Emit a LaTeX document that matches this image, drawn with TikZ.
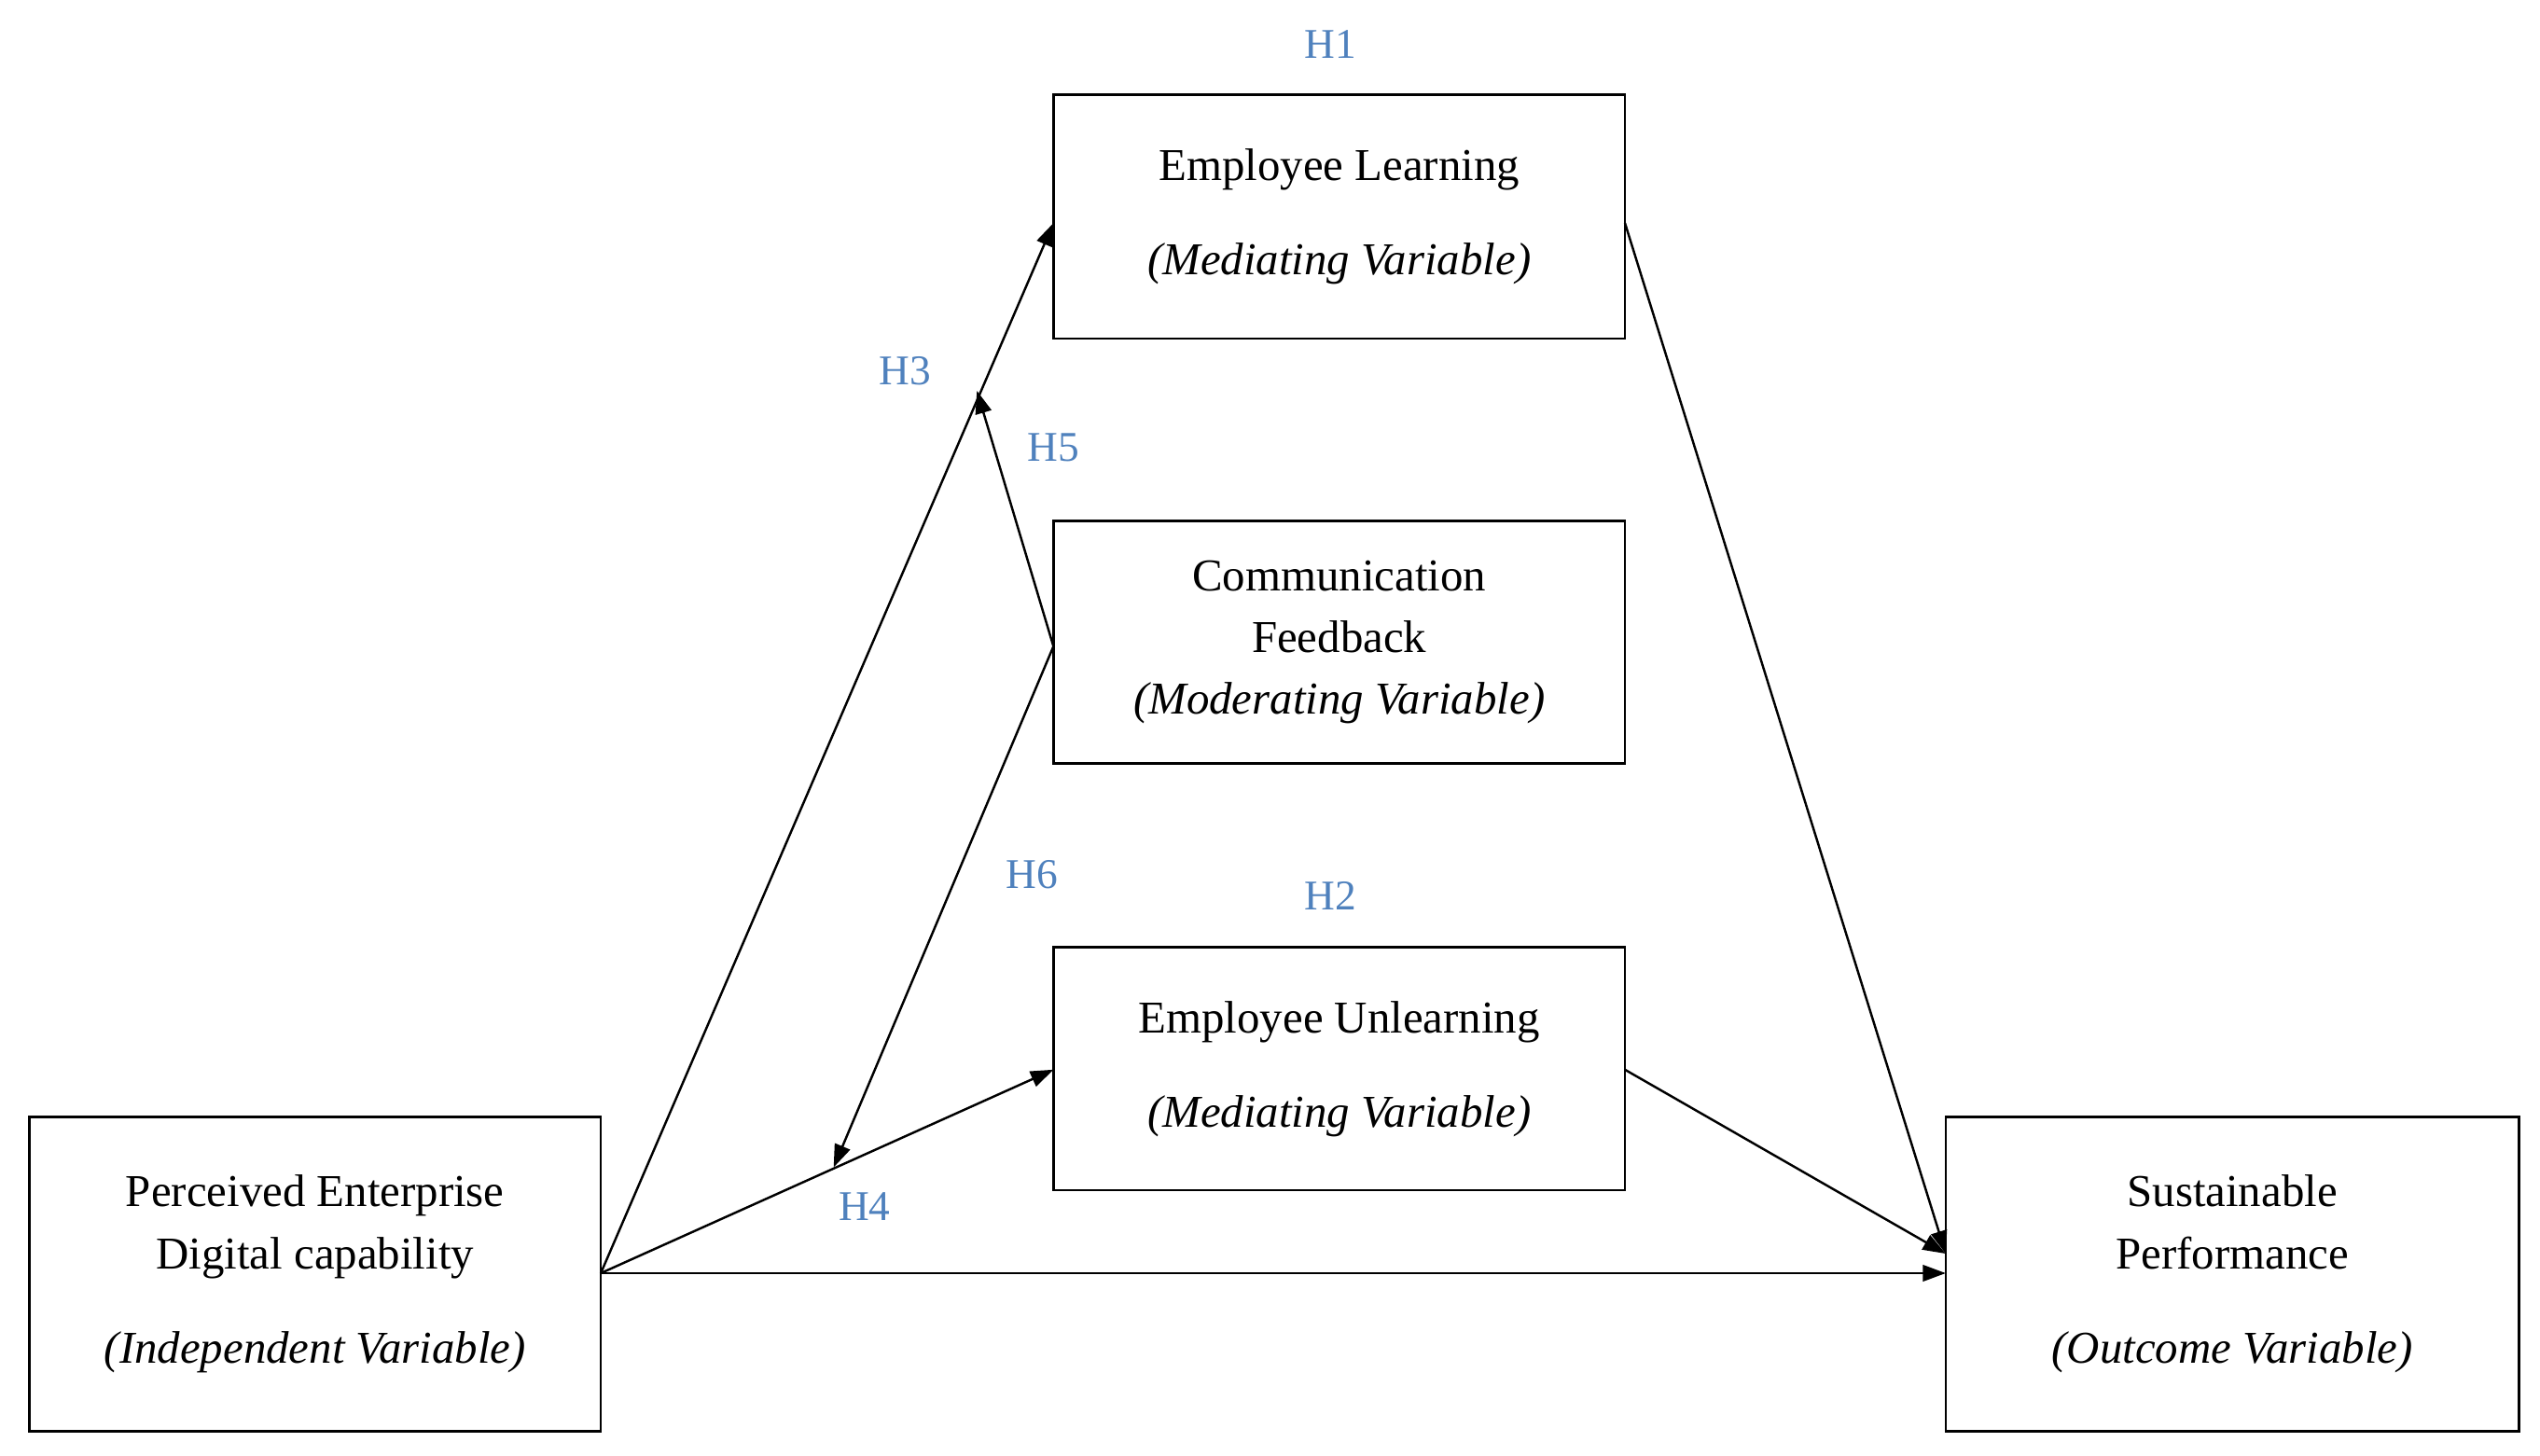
\documentclass[tikz,border=0pt]{standalone}
\usepackage{fontspec}
\setmainfont{Liberation Serif}
\usetikzlibrary{arrows.meta}
\definecolor{hblue}{HTML}{4F81BD}
\begin{document}
\begin{tikzpicture}[x=0.5pt,y=-0.5pt,
  box/.style={draw,line width=0.8pt,inner sep=0pt,align=center,font=\fontsize{14}{19}\selectfont},
  hl/.style={text=hblue,font=\fontsize{13}{15}\selectfont},
  arr/.style={-{Triangle[length=7pt,width=5pt]},line width=0.7pt}]
\useasboundingbox (0,0) rectangle (1560,894);
\node[box,minimum width=351*0.5pt,minimum height=193*0.5pt] (pedc) at (193.5,782.5) {Perceived Enterprise\\Digital capability\\[10pt]\textit{(Independent Variable)}};
\node[box,minimum width=351*0.5pt,minimum height=150*0.5pt] (el) at (822.5,133) {Employee Learning\\[10pt]\textit{(Mediating Variable)}};
\node[box,minimum width=351*0.5pt,minimum height=149*0.5pt] (cf) at (822.5,394.5) {Communication\\Feedback\\\textit{(Moderating Variable)}};
\node[box,minimum width=351*0.5pt,minimum height=149*0.5pt] (eu) at (822.5,656.5) {Employee Unlearning\\[10pt]\textit{(Mediating Variable)}};
\node[box,minimum width=352*0.5pt,minimum height=193*0.5pt] (sp) at (1371,782.5) {Sustainable\\Performance\\[10pt]\textit{(Outcome Variable)}};
\coordinate (o) at (369,782);
\coordinate (elin) at (647,137);
\coordinate (euin) at (647,657);
\coordinate (spin) at (1195,770);
\coordinate (spin2) at (1195,782);
\coordinate (cfo) at (647,397);
\coordinate (h5t) at (600,240);
\coordinate (h6t) at (512,717);
\draw[arr] (o) -- (elin);
\draw[arr] (o) -- (euin);
\draw[arr] (o) -- (spin2);
\draw[arr] (998,137) -- (spin);
\draw[arr] (998,657) -- (spin);
\draw[arr] (cfo) -- (h5t);
\draw[arr] (cfo) -- (h6t);
\node[hl] (h1) at (817,27) {H1};
\node[hl] (h3) at (556,228) {H3};
\node[hl] (h5) at (647,275) {H5};
\node[hl] (h6) at (634,537) {H6};
\node[hl] (h2) at (817,550) {H2};
\node[hl] (h4) at (531,741) {H4};
\end{tikzpicture}
\end{document}
